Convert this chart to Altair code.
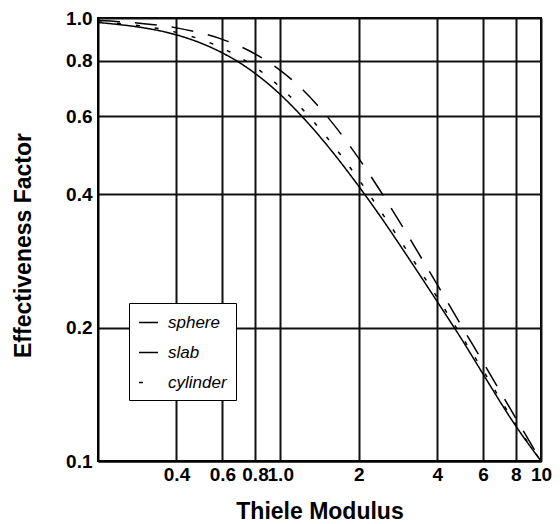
import altair as alt
import pandas as pd

# Thiele modulus sample points
phi = [0.2, 0.25, 0.3, 0.4, 0.5, 0.6, 0.7, 0.8, 0.9, 1.0, 1.2, 1.5, 2.0, 2.5, 3.0, 4.0, 5.0, 6.0, 8.0, 10.0]

# Effectiveness factor
sphere = [0.977, 0.964, 0.950, 0.916, 0.876, 0.834, 0.792, 0.750, 0.710, 0.672, 0.603, 0.519,
          0.417, 0.347, 0.296, 0.229, 0.187, 0.157, 0.120, 0.100]
slab = [0.987, 0.980, 0.971, 0.950, 0.924, 0.895, 0.863, 0.830, 0.796, 0.762, 0.695, 0.603,
        0.482, 0.395, 0.332, 0.250, 0.200, 0.167, 0.125, 0.100]
cylinder = [0.980, 0.970, 0.958, 0.928, 0.893, 0.855, 0.815, 0.775, 0.736, 0.698, 0.628, 0.540,
            0.432, 0.357, 0.304, 0.234, 0.190, 0.160, 0.121, 0.100]

shapes = ["sphere", "slab", "cylinder"]
x_ticks = [0.4, 0.6, 0.8, 1.0, 2, 4, 6, 8, 10]
y_ticks = [0.1, 0.2, 0.4, 0.6, 0.8, 1.0]

rows = []
for name, vals in zip(shapes, [sphere, slab, cylinder]):
    for i, (p, v) in enumerate(zip(phi, vals)):
        rows.append({"phi": p, "eta": v, "shape": name, "order": i})
df = pd.DataFrame(rows)

FONT = "Liberation Sans"

chart = alt.Chart(df).mark_line(color="black", strokeWidth=1.5, clip=True, interpolate="monotone").encode(
    x=alt.X("phi:Q",
            scale=alt.Scale(type="log", domain=[0.2, 10], nice=False),
            axis=alt.Axis(title="Thiele Modulus", values=x_ticks,
                          labelExpr="datum.value <= 1 ? format(datum.value, '.1f') : format(datum.value, 'd')",
                          labelOverlap=False, labelFlush=False, ticks=False, labelPadding=4,
                          titleY=57, titleBaseline="alphabetic")),
    y=alt.Y("eta:Q",
            scale=alt.Scale(type="log", domain=[0.1, 1.0], nice=False),
            axis=alt.Axis(title="Effectiveness Factor", values=y_ticks, format=".1f",
                          labelOverlap=False, labelFlush=False, ticks=False, labelPadding=6,
                          titleX=-75, titleY=227, titleAngle=-90, titleAlign="center",
                          titleBaseline="middle")),
    strokeDash=alt.StrokeDash("shape:N",
                              scale=alt.Scale(domain=shapes, range=[[1, 0], [22, 15], [4, 15]]),
                              legend=alt.Legend(title=None, orient="none", legendX=31, legendY=285,
                                                symbolType="stroke", symbolSize=361,
                                                symbolStrokeWidth=1.5, symbolStrokeColor="black",
                                                labelFont=FONT, labelFontStyle="italic",
                                                labelFontSize=17, labelColor="black",
                                                labelOffset=9, rowPadding=11, padding=9,
                                                strokeColor="black", fillColor="white")),
    order="order:Q",
).properties(
    width=443, height=443,
    autosize=alt.AutoSizeParams(type="none"),
    padding={"left": 90, "top": 10, "right": 11, "bottom": 61},
).configure_view(
    stroke="black", strokeWidth=2
).configure_axis(
    labelFont=FONT, labelFontSize=19, labelFontWeight="bold", labelColor="black",
    titleFont=FONT, titleFontSize=23, titleFontWeight="bold", titleColor="black",
    domainColor="black", domainWidth=2,
    grid=True, gridColor="#111111", gridWidth=2, gridOpacity=1,
)

chart.save("out.html", embed_options={"renderer": "svg", "actions": False})
